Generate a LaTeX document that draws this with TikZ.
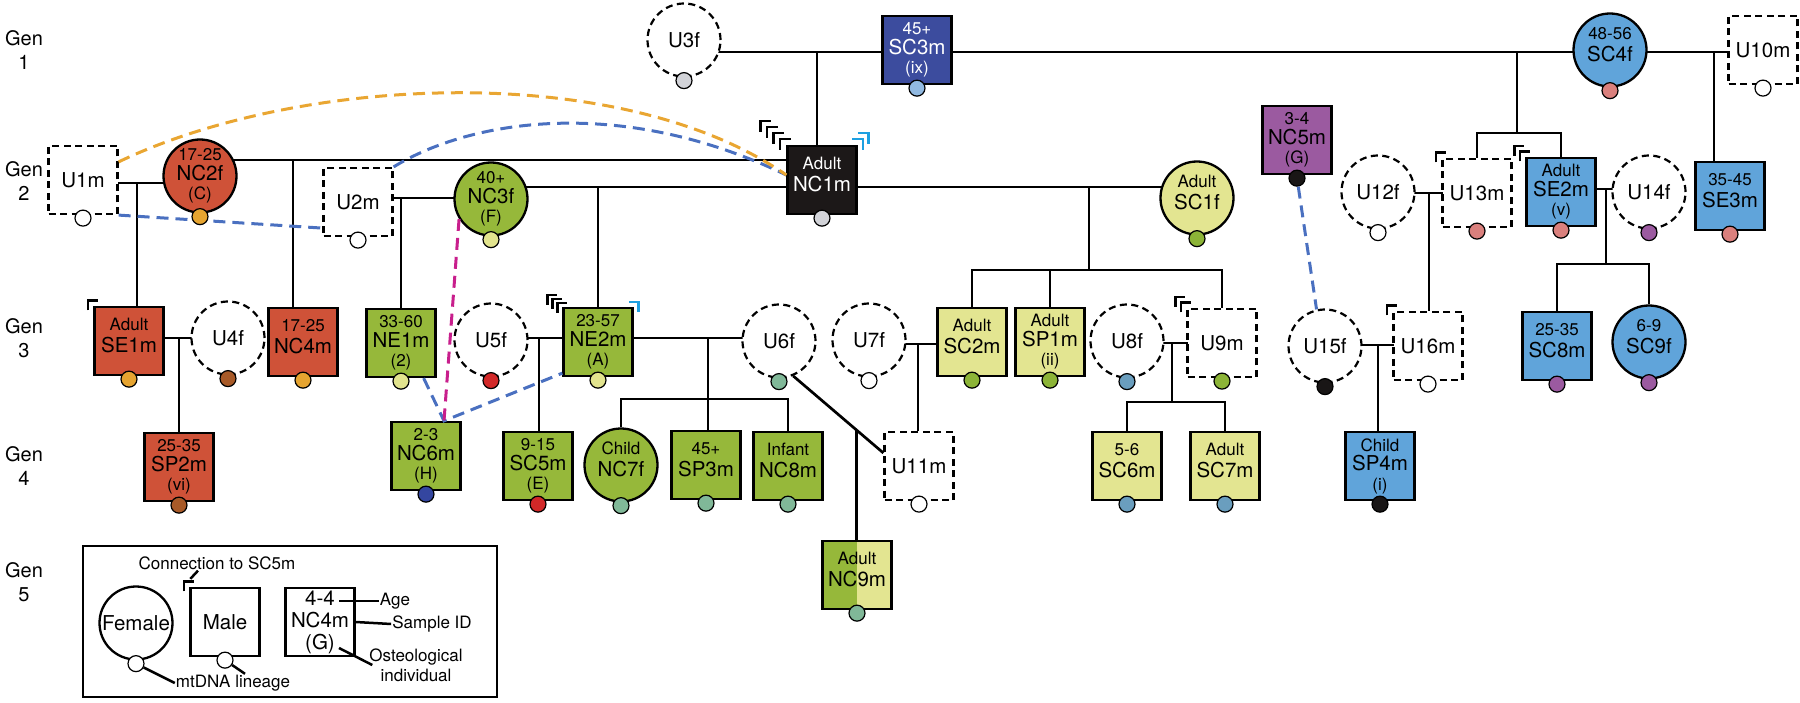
\documentclass[tikz,border=0pt]{standalone}
\usepackage{fontspec}
\setmainfont{TeX Gyre Heros}
\usetikzlibrary{calc,backgrounds}

\definecolor{redF}{RGB}{207,82,56}
\definecolor{greenF}{RGB}{150,184,58}
\definecolor{yellowF}{RGB}{227,229,145}
\definecolor{blueF}{RGB}{96,164,218}
\definecolor{navyF}{RGB}{60,76,158}
\definecolor{purpleF}{RGB}{155,90,160}
\definecolor{blackF}{RGB}{28,24,24}
\definecolor{mtOrange}{RGB}{230,164,48}
\definecolor{mtYellow}{RGB}{226,228,142}
\definecolor{mtGrey}{RGB}{210,211,216}
\definecolor{mtSky}{RGB}{145,185,225}
\definecolor{mtPink}{RGB}{218,128,125}
\definecolor{mtGreen}{RGB}{140,180,55}
\definecolor{mtPurple}{RGB}{155,90,160}
\definecolor{mtBrown}{RGB}{168,90,40}
\definecolor{mtRed}{RGB}{210,40,40}
\definecolor{mtNavy}{RGB}{52,70,160}
\definecolor{mtTeal}{RGB}{128,184,152}
\definecolor{mtSteel}{RGB}{106,158,190}
\definecolor{mtBlack}{RGB}{25,22,22}
\definecolor{lnBlue}{RGB}{74,112,192}
\definecolor{lnOrange}{RGB}{233,166,50}
\definecolor{lnMagenta}{RGB}{200,30,140}
\definecolor{mkBlue}{RGB}{30,160,225}

\newcommand\ag[1]{{\fontsize{17}{19}\selectfont #1}}
\newcommand\twoln[2]{\ag{#1}\\[3pt]#2\\[-8pt]\mbox{}}
\newcommand\threeln[3]{\ag{#1}\\#2\\\ag{#3}}

\begin{document}
\begin{tikzpicture}[x=1pt, y=-1pt, line width=2.7pt,
        every node/.style={font=\fontsize{20.5}{19.5}\selectfont, align=center, inner sep=0pt, line width=2.3pt},
        male/.style={draw, rectangle, minimum width=69pt, minimum height=68pt, fill=white},
        female/.style={draw, circle, minimum size=73pt, fill=white},
        unknown/.style={dash pattern=on 7pt off 4.5pt, line width=2.2pt},
        mt/.style={draw, circle, minimum size=16pt, line width=1.2pt},
        conn/.style={line width=2.4pt},
        relink/.style={dash pattern=on 12pt off 7pt, line width=3pt},
        gen/.style={font=\fontsize{20}{24}\selectfont},
        legtxt/.style={font=\fontsize{17}{20}\selectfont}]

    \useasboundingbox (0,0) rectangle (1800,703);

    \foreach \g/\y in {1/50, 2/181.5, 3/338.5, 4/466, 5/582}
        \node[gen] (gen\g) at (24,\y) {Gen\\\g};

    % generation 1
    \node[female, unknown] (U3f) at (684,40) {U3f};
    \node[male, fill=navyF, text=white] (SC3m) at (917,50) {\threeln{45+}{SC3m}{(ix)}};
    \node[female, fill=blueF] (SC4f) at (1610,50) {\twoln{48-56}{SC4f}};
    \node[male, unknown] (U10m) at (1763,50) {U10m};

    % generation 2
    \node[male, unknown] (U1m) at (83,180) {U1m};
    \node[female, fill=redF] (NC2f) at (200,176) {\threeln{17-25}{NC2f}{(C)}};
    \node[male, unknown] (U2m) at (358,202) {U2m};
    \node[female, fill=greenF] (NC3f) at (491,199) {\threeln{40+}{NC3f}{(F)}};
    \node[male, fill=blackF, text=white] (NC1m) at (822,180) {\twoln{Adult}{NC1m}};
    \node[female, fill=yellowF] (SC1f) at (1197,198) {\twoln{Adult}{SC1f}};
    \node[male, fill=purpleF] (NC5m) at (1297,140) {\threeln{3-4}{NC5m}{(G)}};
    \node[female, unknown] (U12f) at (1378,192) {U12f};
    \node[male, unknown] (U13m) at (1477,193) {U13m};
    \node[male, fill=blueF] (SE2m) at (1561,192) {\threeln{Adult}{SE2m}{(v)}};
    \node[female, unknown] (U14f) at (1649,192) {U14f};
    \node[male, fill=blueF] (SE3m) at (1730,196) {\twoln{35-45}{SE3m}};

    % generation 3
    \node[male, fill=redF] (SE1m) at (129,341) {\twoln{Adult}{SE1m}};
    \node[female, unknown] (U4f) at (228,338) {U4f};
    \node[male, fill=redF] (NC4m) at (303,342) {\twoln{17-25}{NC4m}};
    \node[male, fill=greenF] (NE1m) at (401,343) {\threeln{33-60}{NE1m}{(2)}};
    \node[female, unknown] (U5f) at (491,340) {U5f};
    \node[male, fill=greenF] (NE2m) at (598,342) {\threeln{23-57}{NE2m}{(A)}};
    \node[female, unknown] (U6f) at (779,341) {U6f};
    \node[female, unknown] (U7f) at (869,340) {U7f};
    \node[male, fill=yellowF] (SC2m) at (972,342) {\twoln{Adult}{SC2m}};
    \node[male, fill=yellowF] (SP1m) at (1050,342) {\threeln{Adult}{SP1m}{(ii)}};
    \node[female, unknown] (U8f) at (1127,341) {U8f};
    \node[male, unknown] (U9m) at (1222,343) {U9m};
    \node[female, unknown] (U15f) at (1325,346) {U15f};
    \node[male, unknown] (U16m) at (1428,346) {U16m};
    \node[male, fill=blueF] (SC8m) at (1557,346) {\twoln{25-35}{SC8m}};
    \node[female, fill=blueF] (SC9f) at (1649,342) {\twoln{6-9}{SC9f}};

    % generation 4
    \node[male, fill=redF] (SP2m) at (179,467) {\threeln{25-35}{SP2m}{(vi)}};
    \node[male, fill=greenF] (NC6m) at (426,456) {\threeln{2-3}{NC6m}{(H)}};
    \node[male, fill=greenF] (SC5m) at (538,466) {\threeln{9-15}{SC5m}{(E)}};
    \node[female, fill=greenF] (NC7f) at (621,465) {\twoln{Child}{NC7f}};
    \node[male, fill=greenF] (SP3m) at (706,465) {\twoln{45+}{SP3m}};
    \node[male, fill=greenF] (NC8m) at (788,466) {\twoln{Infant}{NC8m}};
    \node[male, unknown] (U11m) at (919,466) {U11m};
    \node[male, fill=yellowF] (SC6m) at (1127,466) {\twoln{5-6}{SC6m}};
    \node[male, fill=yellowF] (SC7m) at (1225,466) {\twoln{Adult}{SC7m}};
    \node[male, fill=blueF] (SP4m) at (1380,466) {\threeln{Child}{SP4m}{(i)}};

    % generation 5
    \node[male, fill=yellowF, path picture={\fill[greenF] (path picture bounding box.south west) rectangle (path picture bounding box.north);}]
        (NC9m) at (857,575) {\twoln{Adult}{NC9m}};

    \begin{scope}[on background layer={line width=2.7pt}]
        % generation 1 lines
        \draw (U3f |- 0,52) -- (U10m |- 0,52);
        \coordinate (j1) at (817,52);
        \draw (j1) -- (j1 |- NC1m.north);
        \coordinate (j2) at (1517,133);
        \draw (j2 |- j1) -- (j2);
        \draw (U13m.north) |- (j2) -| (SE2m.north);
        \coordinate (j3) at (1714,52);
        \draw (j3) -- (j3 |- SE3m.north);
        % generation 2 lines
        \draw (U1m |- 0,183) -- (NC2f |- 0,183);
        \coordinate (j4) at (137,183);
        \draw (j4) -- (j4 |- SE1m.north);
        \draw (NC2f |- 0,160) -- (NC1m |- 0,160);
        \coordinate (j5) at (293,160);
        \draw (j5) -- (j5 |- NC4m.north);
        \draw (U2m |- 0,198) -- (NC3f |- 0,198);
        \coordinate (j6) at (401,198);
        \draw (j6) -- (j6 |- NE1m.north);
        \draw (NC3f |- 0,187) -- (SC1f |- 0,187);
        \coordinate (j7) at (598,187);
        \draw (j7) -- (j7 |- NE2m.north);
        \coordinate (j8) at (1089,187);
        \coordinate (s8) at (1089,270);
        \draw (j8) -- (s8);
        \draw (SC2m.north) |- (s8) -| (U9m.north);
        \draw (SP1m.north) -- (SP1m |- s8);
        \draw (U12f |- 0,193) -- (U13m |- 0,193);
        \coordinate (j9) at (1429,193);
        \draw (j9) -- (j9 |- U16m.north);
        \draw (SE2m |- 0,189) -- (U14f |- 0,189);
        \coordinate (j10) at (1606,189);
        \coordinate (s10) at (1606,264);
        \draw (j10) -- (s10);
        \draw (SC8m.north) |- (s10) -| (SC9f.north);
        % generation 3 lines
        \draw (SE1m |- 0,338) -- (U4f |- 0,338);
        \coordinate (j11) at (179,338);
        \draw (j11) -- (j11 |- SP2m.north);
        \draw (U5f |- 0,338) -- (U6f |- 0,338);
        \coordinate (j12) at (539,338);
        \draw (j12) -- (j12 |- SC5m.north);
        \coordinate (j13) at (708,338);
        \coordinate (s13) at (708,399);
        \draw (j13) -- (j13 |- SP3m.north);
        \draw (NC7f.north) |- (s13) -| (NC8m.north);
        \coordinate (u11in) at ([yshift=13pt]U11m.west);
        \draw (U6f.-68) -- (u11in);
        \coordinate (j14) at ($(U6f.-68)!0.7!(u11in)$);
        \draw (j14) -- (j14 |- NC9m.north);
        \draw (U7f |- 0,344) -- (SC2m |- 0,344);
        \coordinate (j15) at (918,344);
        \draw (j15) -- (j15 |- U11m.north);
        \draw (U8f |- 0,343) -- (U9m |- 0,343);
        \coordinate (j16) at (1172,343);
        \coordinate (s16) at (1172,402);
        \draw (j16) -- (s16);
        \draw (SC6m.north) |- (s16) -| (SC7m.north);
        \draw (U15f |- 0,345) -- (U16m |- 0,345);
        \coordinate (j17) at (1378,345);
        \draw (j17) -- (j17 |- SP4m.north);
    \end{scope}

    % shared links
    \draw[relink, lnBlue] (U2m.north east) .. controls (470,120) and (620,95) .. ([yshift=5pt]NC1m.west);
    \draw[relink, lnOrange] ([yshift=-17pt]U1m.north east) .. controls (300,75) and (620,60) .. ([yshift=5pt]NC1m.west);
    \draw[relink, lnBlue] (U1m.south east) -- ([yshift=9pt]U2m.south west);
    \draw[relink, lnBlue] ([xshift=-13pt]NE1m.south east) -- ([xshift=18pt]NC6m.north) -- ([yshift=4pt]NE2m.south west);
    \draw[relink, lnMagenta] (NC3f.212) -- ([xshift=18pt]NC6m.north);

    % mtDNA lineages
    \foreach \n/\c in {U3f/mtGrey, SC3m/mtSky, SC4f/mtPink, U10m/white, U1m/white, NC2f/mtOrange,
            U2m/white, NC3f/mtYellow, NC1m/mtGrey, SC1f/mtGreen, NC5m/mtBlack, U12f/white,
            U13m/mtPink, SE2m/mtPink, U14f/mtPurple, SE3m/mtPink, SE1m/mtOrange, U4f/mtBrown,
            NC4m/mtOrange, NE1m/mtYellow, U5f/mtRed, NE2m/mtYellow, U6f/mtTeal, U7f/white,
            SC2m/mtGreen, SP1m/mtGreen, U8f/mtSteel, U9m/mtGreen, U15f/mtBlack, U16m/white,
            SC8m/mtPurple, SC9f/mtPurple, SP2m/mtBrown, NC6m/mtNavy, SC5m/mtRed, NC7f/mtTeal,
            SP3m/mtTeal, NC8m/mtTeal, U11m/white, SC6m/mtSteel, SC7m/mtSteel, SP4m/mtBlack,
            NC9m/mtTeal}
        \node[mt, fill=\c] (\n-mt) at ([yshift=-3pt]\n.south) {};

    \draw[relink, lnBlue] (NC5m-mt) -- (U15f.103);

    % legend
    \node[draw, minimum width=414pt, minimum height=151pt, line width=2.7pt] (legend) at (290,621.5) {};
    \node[female] (lgF) at (136,623) {Female};
    \node[male] (lgM) at (225,622) {Male};
    \node[male, font=\fontsize{20.5}{22}\selectfont] (lgK) at (320,622) {4-4\\NC4m\\(G)};
    \foreach \n in {lgF, lgM}
        \node[mt, fill=white] (\n-mt) at ([yshift=-3pt]\n.south) {};
    \node[legtxt] (lgC) at (217,563) {Connection to SC5m};
    \node[legtxt] (lgD) at (233,683) {mtDNA lineage};
    \node[legtxt] (lgA) at (395,601) {Age};
    \node[legtxt] (lgS) at (432,624) {Sample ID};
    \node[legtxt] (lgO) at (416,665) {Osteological\\individual};
    \draw[line width=2.5pt] ([xshift=-19pt]lgC.south) -- ([shift={(1,-8)}]lgM.north west);
    \draw[line width=2.5pt] (lgF-mt) -- (lgD.west);
    \draw[line width=2.5pt] (lgM-mt) -- ([xshift=12pt]lgD.north);
    \draw[line width=2.5pt] ([shift={(19,-21)}]lgK.center) -- (lgA.west);
    \draw[line width=2.5pt] (lgK.east) -- (lgS.west);
    \draw[line width=2.5pt] ([shift={(19,26)}]lgK.center) -- ([xshift=4pt]lgO.west);

    % connections to SC5m
    \foreach \i in {1,...,4}
        \draw[conn] ([shift={(-6.5*\i,-6*\i)}]NC1m.north west) ++(0,11) -- ++(0,-11) -- ++(11,0);
    \foreach \i in {1,2}
        \draw[conn, mkBlue] ([shift={(5.5*\i,-6*\i)}]NC1m.north east) ++(0,11) -- ++(0,-11) -- ++(-11,0);
    \foreach \i in {1,2,3}
        \draw[conn] ([shift={(-5*\i,-4*\i)}]NE2m.north west) ++(0,10) -- ++(0,-10) -- ++(10,0);
    \draw[conn, mkBlue] ([shift={(5,-5)}]NE2m.north east) ++(0,10) -- ++(0,-10) -- ++(-10,0);
    \foreach \n/\k in {SE1m/1, U9m/2, U16m/1, U13m/1, SE2m/2, lgM/1}
        \foreach \i in {1,...,\k}
            \draw[conn] ([shift={(-5.5*\i,-5.5*\i)}]\n.north west) ++(0,10) -- ++(0,-10) -- ++(10,0);
\end{tikzpicture}
\end{document}
